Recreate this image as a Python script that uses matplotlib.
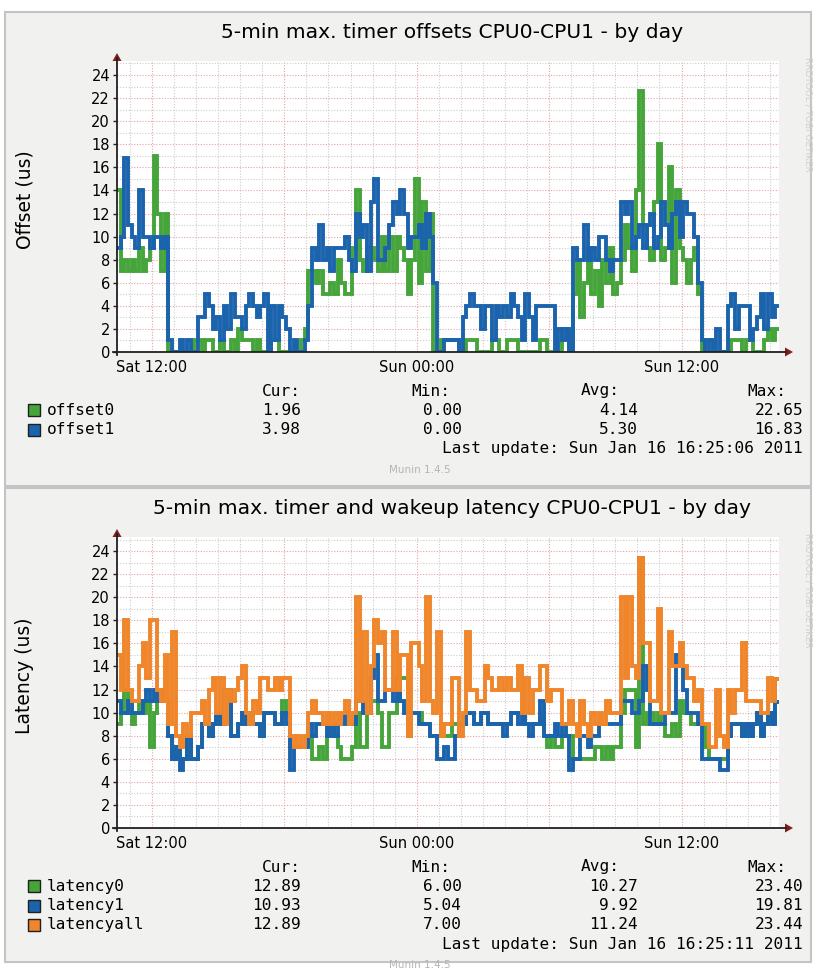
import matplotlib
matplotlib.use("Agg")
import matplotlib.pyplot as plt
import matplotlib.dates as mdates
from matplotlib.lines import Line2D
from matplotlib.patches import Rectangle, Polygon
import pandas as pd

W, H = 814, 976

# ---------------------------------------------------------------------------
# Data: 10-minute samples from Sat 2011-01-15 10:25 to Sun 16:25
# ---------------------------------------------------------------------------
START = "2011-01-15 10:25"
STEP = "10min"
N_SAMPLES = 180

offset0 = [
    14, 7, 8, 7, 8, 7, 9, 7, 8, 9, 17, 12,
    7, 12, 0, 0, 0, 0, 0, 0, 0, 1, 1, 0,
    1, 1, 0, 0, 1, 0, 0, 1, 0, 2, 1, 1,
    1, 0, 1, 0, 0, 0, 1, 1, 0, 0, 0, 0,
    0, 0, 1, 2, 7, 7, 6, 7, 5, 5, 6, 5,
    8, 6, 5, 5, 9, 14, 8, 7, 9, 9, 8, 7,
    10, 7, 10, 7, 10, 9, 8, 5, 8, 15, 6, 13,
    7, 12, 0, 0, 1, 1, 1, 1, 1, 0, 0, 1,
    1, 1, 0, 0, 0, 0, 1, 1, 0, 0, 1, 1,
    1, 0, 0, 0, 0, 0, 0, 1, 1, 0, 0, 0,
    0, 2, 2, 0, 5, 8, 3, 6, 9, 5, 7, 4,
    8, 6, 9, 5, 6, 8, 11, 9, 7, 14, 22.65, 11,
    9, 8, 13, 18, 8, 9, 16, 6, 14, 9, 8, 6,
    8, 9, 5, 0, 1, 1, 0, 0, 0, 0, 0, 1,
    1, 1, 0, 1, 1, 0, 0, 0, 1, 2, 1, 1.96,
]
offset1 = [
    9, 10, 16.83, 11, 10, 9, 14, 10, 10, 9, 10, 10,
    9, 10, 1, 0, 0, 1, 0, 1, 0, 0, 3, 3,
    5, 4, 2, 3, 1, 4, 2, 5, 3, 3, 2, 4,
    5, 4, 3, 4, 5, 0, 4, 1, 4, 3, 2, 0,
    1, 0, 0, 1, 4, 9, 8, 11, 8, 9, 7, 9,
    9, 9, 10, 8, 7, 12, 10, 11, 7, 13, 15, 8,
    8, 9, 11, 13, 12, 14, 12, 9, 10, 10, 11, 9,
    12, 10, 6, 0, 0, 1, 1, 1, 1, 0, 3, 4,
    5, 4, 4, 2, 4, 4, 1, 4, 3, 4, 3, 5,
    4, 3, 1, 5, 3, 1, 4, 4, 4, 4, 4, 0,
    2, 1, 2, 0, 9, 8, 8, 11, 8, 9, 8, 10,
    10, 8, 7, 8, 8, 13, 12, 13, 9, 10, 11, 9,
    11, 12, 9, 10, 13, 11, 9, 12, 13, 10, 13, 12,
    12, 10, 6, 1, 0, 1, 0, 2, 0, 0, 4, 5,
    2, 4, 4, 4, 1, 2, 3, 5, 2, 5, 3, 3.98,
]

latency0 = [
    9, 10, 12, 10, 9, 10, 11, 10, 11, 7, 10, 11,
    12, 11, 8, 6, 7, 6, 6, 8, 6, 6, 7, 9,
    9, 8, 9, 10, 9, 11, 11, 8, 8, 9, 10, 9,
    10, 9, 9, 8, 10, 10, 10, 9, 9, 11, 10, 7,
    7, 7, 7, 7, 8, 6, 6, 7, 6, 8, 9, 8,
    7, 6, 6, 6, 7, 10, 7, 7, 10, 11, 11, 10,
    7, 7, 10, 10, 11, 13, 13, 8, 10, 10, 10, 9,
    9, 8, 8, 8, 9, 8, 8, 9, 9, 9, 9, 10,
    10, 9, 9, 10, 10, 9, 9, 9, 9, 9, 9, 10,
    10, 10, 10, 9, 9, 9, 9, 10, 8, 7, 8, 7,
    7, 8, 8, 8, 6, 6, 6, 6, 6, 6, 7, 7,
    6, 7, 6, 7, 7, 10, 12, 12, 12, 7, 23.4, 9,
    10, 10, 9, 10, 9, 8, 8, 9, 8, 11, 10, 10,
    9, 9, 9, 9, 7, 6, 6, 6, 6, 6, 8, 9,
    9, 9, 8, 9, 8, 9, 10, 8, 9, 10, 9, 12.89,
]
latency1 = [
    11, 10, 10, 11, 10, 10, 10, 11, 12, 11, 12, 11,
    11, 11, 8, 6, 7, 5, 6, 8, 6, 6, 7, 9,
    9, 8, 9, 10, 9, 12, 12, 8, 8, 9, 10, 9,
    10, 9, 9, 8, 10, 10, 10, 9, 9, 10, 9, 5,
    7, 7, 7, 7, 9, 8, 9, 9, 9, 8, 9, 8,
    9, 9, 10, 9, 9, 11, 11, 10, 10, 13, 15, 11,
    11, 12, 12, 11, 13, 11, 10, 9, 10, 10, 9, 9,
    9, 8, 8, 6, 6, 7, 6, 6, 8, 9, 9, 10,
    10, 9, 9, 10, 10, 9, 9, 9, 9, 8, 9, 10,
    10, 9, 10, 9, 8, 9, 9, 11, 8, 8, 8, 9,
    8, 9, 8, 5, 6, 6, 8, 8, 7, 8, 8, 9,
    9, 9, 9, 9, 9, 11, 11, 11, 10, 10, 11, 14,
    12, 9, 9, 9, 9, 10, 10, 10, 15, 14, 12, 10,
    10, 10, 9, 6, 6, 6, 6, 6, 5, 5, 8, 9,
    9, 9, 8, 9, 8, 9, 10, 8, 9, 10, 9, 10.93,
]
latencyall = [
    15, 12, 18, 12, 11, 11, 14, 16, 13, 18, 18, 12,
    11, 15, 9, 17, 8, 7, 9, 8, 10, 10, 10, 11,
    9, 12, 13, 10, 13, 9, 12, 11, 12, 13, 14, 10,
    9, 11, 10, 13, 13, 12, 12, 13, 12, 13, 13, 8,
    7, 8, 7, 8, 10, 11, 10, 10, 9, 10, 9, 10,
    9, 10, 11, 9, 10, 20, 11, 17, 10, 14, 18, 16,
    17, 12, 12, 17, 12, 15, 15, 8, 16, 16, 14, 11,
    20, 11, 10, 17, 8, 9, 9, 13, 13, 8, 10, 17,
    12, 12, 11, 11, 14, 13, 12, 12, 13, 12, 13, 12,
    12, 14, 10, 13, 10, 12, 12, 14, 14, 11, 12, 12,
    12, 9, 9, 11, 9, 8, 11, 9, 8, 10, 9, 10,
    9, 11, 10, 10, 10, 20, 13, 20, 14, 13, 23.44, 16,
    16, 11, 11, 19, 10, 10, 17, 14, 14, 16, 14, 13,
    13, 11, 12, 9, 9, 7, 7, 12, 8, 7, 12, 10,
    12, 12, 16, 11, 11, 11, 11, 10, 10, 13, 11, 12.89,
]

offset_titles = "5-min max. timer offsets CPU0-CPU1 - by day"
latency_titles = "5-min max. timer and wakeup latency CPU0-CPU1 - by day"
stat_headers = ["Cur:", "Min:", "Avg:", "Max:"]
offset_names = ["offset0", "offset1"]
offset_stats = [["1.96", "0.00", "4.14", "22.65"],
                ["3.98", "0.00", "5.30", "16.83"]]
latency_names = ["latency0", "latency1", "latencyall"]
latency_stats = [["12.89", "6.00", "10.27", "23.40"],
                 ["10.93", "5.04", "9.92", "19.81"],
                 ["12.89", "7.00", "11.24", "23.44"]]
x_ticks = ["2011-01-15 12:00", "2011-01-16 00:00", "2011-01-16 12:00"]

# ---------------------------------------------------------------------------
# Style (rrdtool / munin look)
# ---------------------------------------------------------------------------
GREEN, BLUE, ORANGE = "#45a53a", "#1b64ad", "#f0852a"
BACK = "#f1f1f0"
GRID = "#cdcdcd"
MGRID = "#e3a3a3"
AXIS = "#202020"
ARROW = "#7f1f1f"
SANS = "DejaVu Sans"
MONO = "DejaVu Sans Mono"

PX_PER_UNIT = 11.54
YTOP = 25.2
X_LEFT, X_RIGHT = 117, 779


def fx(x):
    return x / W


def fy(y):
    return 1 - y / H


def fig_line(fig, xs, ys, **kw):
    fig.add_artist(Line2D([fx(x) for x in xs], [fy(y) for y in ys],
                          transform=fig.transFigure, **kw))


def draw_graph(fig, y0, title, ylabel, names, colors, series, stats, updated):
    """One munin graph whose outer border top sits at pixel row y0."""
    fig.add_artist(Rectangle((fx(5), fy(y0 + 474)), (806) / W, 474 / H,
                             transform=fig.transFigure, facecolor=BACK,
                             edgecolor="#c4c4c4", lw=1.5, zorder=0))
    zero = y0 + 340
    height = YTOP * PX_PER_UNIT
    ax = fig.add_axes([fx(X_LEFT), fy(zero), (X_RIGHT - X_LEFT) / W, height / H])
    ax.set_facecolor("white")

    edges = mdates.date2num(pd.date_range(START, periods=N_SAMPLES + 1, freq=STEP))
    ax.set_xlim(edges[0], edges[-1])
    ax.set_ylim(0, YTOP)

    # grid: hourly minor, 6-hourly major; 1-unit minor, 2-unit major
    hours = pd.date_range("2011-01-15 11:00", "2011-01-16 16:00", freq="h")
    for h in hours:
        ax.axvline(mdates.date2num(h), color=MGRID if h.hour % 6 == 0 else GRID,
                   lw=0.8, ls=(0, (1, 1.5)), zorder=0)
    for v in range(1, 26):
        ax.axhline(v, color=MGRID if v % 2 == 0 else GRID,
                   lw=0.8, ls=(0, (1, 1.5)), zorder=0)

    for vals, c in zip(series, colors):
        ax.stairs(vals, edges, baseline=None, color=c, lw=2.8,
                  joinstyle="miter", zorder=2)

    for s in ax.spines.values():
        s.set_visible(False)
    ax.set_yticks(range(0, 25, 2))
    ax.tick_params(axis="y", length=3, width=1, color=AXIS, pad=2,
                   labelsize=10.5)
    ax.set_xticks(mdates.date2num(pd.to_datetime(x_ticks)))
    ax.xaxis.set_major_formatter(mdates.DateFormatter("%a %H:%M"))
    ax.tick_params(axis="x", length=0, pad=5.5, labelsize=10.5)
    for lab in ax.get_xticklabels() + ax.get_yticklabels():
        lab.set_family(SANS)

    # axes with arrows
    fig_line(fig, [113, 786], [zero, zero], color=AXIS, lw=1.3)
    fig_line(fig, [X_LEFT, X_LEFT], [zero + 3, zero - 294], color=AXIS, lw=1.3)
    fig.add_artist(Polygon([[fx(785), fy(zero - 4.5)], [fx(793), fy(zero)],
                            [fx(785), fy(zero + 4.5)]], closed=True,
                           transform=fig.transFigure, color=ARROW, lw=0))
    fig.add_artist(Polygon([[fx(X_LEFT - 4.5), fy(zero - 291)],
                            [fx(X_LEFT), fy(zero - 299)],
                            [fx(X_LEFT + 4.5), fy(zero - 291)]], closed=True,
                           transform=fig.transFigure, color=ARROW, lw=0))

    fig.text(fx(452), fy(y0 + 21), title, ha="center", va="center",
             fontsize=14.6, family=SANS)
    fig.text(fx(25), fy(zero - 152), ylabel, ha="center", va="center",
             rotation=90, fontsize=13.5, family=SANS)
    fig.text(fx(808), fy(y0 + 45), "RRDTOOL / TOBI OETIKER", ha="center",
             va="top", rotation=270, fontsize=6.5, color="#cfcfcf", family=SANS)

    # legend
    head_y = y0 + 379
    val_right = [301, 462, 638, 803]
    head_right = [301, 450, 620, 786]
    for txt, xr in zip(stat_headers, head_right):
        fig.text(fx(xr), fy(head_y), txt, ha="right", va="center",
                 fontsize=11.6, family=MONO)
    row_y = head_y
    for name, c, st in zip(names, colors, stats):
        row_y += 19.3
        fig.add_artist(Rectangle((fx(28), fy(row_y + 6)), 12 / W, 12 / H,
                                 transform=fig.transFigure, facecolor=c,
                                 edgecolor="#202020", lw=1))
        fig.text(fx(47), fy(row_y), name, ha="left", va="center",
                 fontsize=11.6, family=MONO)
        for v, xr in zip(st, val_right):
            fig.text(fx(xr), fy(row_y), v, ha="right", va="center",
                     fontsize=11.6, family=MONO)
    row_y += 19.3
    fig.text(fx(803), fy(row_y), "Last update: " + updated, ha="right",
             va="center", fontsize=11.6, family=MONO)
    fig.text(fx(420), fy(row_y + 21), "Munin 1.4.5", ha="center", va="center",
             fontsize=7.5, color="#b5b5b5", family=SANS)
    return ax


fig = plt.figure(figsize=(W / 100, H / 100), dpi=100)
fig.patch.set_facecolor("white")

draw_graph(fig, 12, offset_titles, "Offset (us)", offset_names,
           [GREEN, BLUE], [offset0, offset1], offset_stats,
           "Sun Jan 16 16:25:06 2011")
draw_graph(fig, 488, latency_titles, "Latency (us)", latency_names,
           [GREEN, BLUE, ORANGE], [latency0, latency1, latencyall],
           latency_stats, "Sun Jan 16 16:25:11 2011")

fig.savefig("out.png", dpi=100)
